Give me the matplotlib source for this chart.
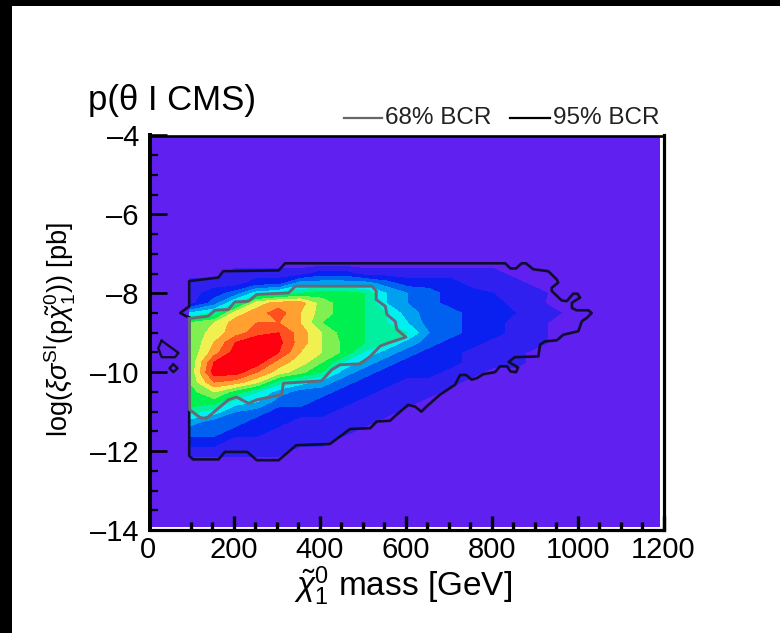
import numpy as np
import matplotlib
matplotlib.use("Agg")
import matplotlib.pyplot as plt
from matplotlib.colors import ListedColormap, BoundaryNorm
from matplotlib.patches import Rectangle

plt.rcParams['font.family'] = ['Liberation Sans', 'DejaVu Sans']
plt.rcParams['mathtext.fontset'] = 'custom'
plt.rcParams['mathtext.rm'] = 'Liberation Sans'
plt.rcParams['mathtext.it'] = 'Liberation Sans:italic'
plt.rcParams['mathtext.bf'] = 'Liberation Sans:bold'

# Mass and cross section grid of the posterior map
mass = [97, 155, 205, 255, 305, 355, 405, 455, 505, 555, 605, 655, 705, 755, 805, 855, 905, 955, 1005, 1055]
logsigma = [-7.25, -7.5, -7.75, -8, -8.25, -8.5, -8.75, -9, -9.25, -9.5, -9.75,
            -10, -10.25, -10.5, -10.75, -11, -11.25, -11.5, -11.75, -12, -12.25]

# Colour band, one row per logsigma value
density = [
    [0, 0, 0, 0, 0, 0, 0, 0, 0, 0, 0, 0, 0, 0, 0, 0, 0, 0, 0, 0],
    [0, 0, 1, 1, 1, 1, 2, 2, 1, 1, 1, 1, 1, 1, 1, 0, 0, 0, 0, 0],
    [1, 1, 1, 2, 2, 4, 4, 4, 4, 3, 2, 2, 2, 1, 1, 1, 0, 0, 0, 0],
    [1, 2, 3, 5, 5.5, 6.5, 7, 7, 6.5, 4.5, 3.5, 3, 2, 2, 1.5, 1, 1, 0, 0, 0],
    [1, 3, 5.5, 9, 10, 10, 8, 7, 6.5, 4.5, 3.5, 3, 2, 2, 2, 1, 0.8, 0, 0, 0],
    [4.5, 5.5, 9, 10, 11, 9.5, 8, 7, 6.5, 5.5, 4, 3, 3, 2, 2, 1.5, 1, 0.6, 0, 0],
    [7.5, 8.5, 10, 10.5, 10.5, 9.5, 7.5, 7, 6.5, 5.5, 4.5, 3, 3, 2, 2, 1, 1, 0, 0, 0],
    [7.5, 9, 10, 11, 11.5, 10, 8.5, 7, 6.5, 6, 5.5, 3.5, 3, 2, 2, 1, 1, 0, 0, 0],
    [7.5, 9.5, 11.5, 12.5, 11.8, 10, 8.5, 7.3, 6.5, 5.5, 4, 3, 2, 2, 1, 1, 1, 0, 0, 0],
    [7.5, 10, 12, 12.8, 11.5, 9.5, 8.5, 7.3, 5.3, 4, 3, 2, 2, 1, 1, 1, 0, 0, 0, 0],
    [7.5, 11.5, 12.8, 12, 10, 9, 7.5, 5.5, 4, 3, 2, 2, 2, 1, 1, 1, 0, 0, 0, 0],
    [7.5, 12, 12, 10.5, 9, 7.8, 6.5, 4, 3, 2, 2, 2, 1, 1, 0, 0, 0, 0, 0, 0],
    [7.5, 10.5, 10, 8.7, 6, 5, 4, 3, 2, 2, 1, 1, 1, 0, 0, 0, 0, 0, 0, 0],
    [7, 8.5, 7, 5.5, 4, 3, 3, 2, 2, 1, 1, 1, 0, 0, 0, 0, 0, 0, 0, 0],
    [7, 7, 5, 4.5, 3, 3, 2, 2, 1, 1, 1, 0, 0, 0, 0, 0, 0, 0, 0, 0],
    [6, 5, 3.5, 3, 2, 2, 2, 1, 1, 1, 0, 0, 0, 0, 0, 0, 0, 0, 0, 0],
    [4, 3, 3, 2, 2, 1, 1, 1, 1, 0, 0, 0, 0, 0, 0, 0, 0, 0, 0, 0],
    [3, 3, 2, 2, 1, 1, 1, 1, 0, 0, 0, 0, 0, 0, 0, 0, 0, 0, 0, 0],
    [2, 2, 1, 1, 1, 1, 1, 0, 0, 0, 0, 0, 0, 0, 0, 0, 0, 0, 0, 0],
    [1, 1, 1, 1, 1, 0, 0, 0, 0, 0, 0, 0, 0, 0, 0, 0, 0, 0, 0, 0],
    [0, 0, 0, 0, 0, 0, 0, 0, 0, 0, 0, 0, 0, 0, 0, 0, 0, 0, 0, 0],
]
band_colors = ['#6020f0', '#3020f0', '#0a20f0', '#0060f0', '#00a0f0', '#00f0f0', '#00f0a0',
               '#00f050', '#80f050', '#f0f050', '#ffa030', '#ff5020', '#ff0010']

# 95% BCR outline
bcr95_x = [97, 76, 97, 97, 165, 176, 305, 320, 727, 832, 844, 857, 870, 880, 897, 932, 952, 955, 940, 940,
           963, 975, 990, 1000, 1006, 987, 987, 998, 1025, 1033, 1022, 1010, 1002, 967, 952, 924, 913, 909,
           854, 840, 862, 857, 844, 836, 820, 808, 781, 766, 754, 741, 727, 715, 680, 649, 637, 622, 606,
           579, 564, 533, 518, 471, 424, 346, 305, 254, 232, 180, 165, 106, 97, 97]
bcr95_y = [-8.62, -8.5, -8.33, -7.69, -7.6, -7.44, -7.42, -7.24, -7.24, -7.24, -7.37, -7.37, -7.24, -7.24,
           -7.39, -7.44, -7.65, -7.73, -7.86, -7.94, -8.18, -8.2, -8.01, -8.01, -8.11, -8.24, -8.37, -8.43,
           -8.43, -8.5, -8.62, -8.71, -8.96, -9.05, -9.19, -9.22, -9.3, -9.6, -9.62, -9.74, -9.88, -10.0,
           -9.98, -9.85, -9.85, -10.0, -10.05, -10.15, -10.19, -10.07, -10.07, -10.32, -10.57, -10.87, -11.0,
           -10.87, -10.83, -11.08, -11.23, -11.25, -11.42, -11.44, -11.82, -11.85, -12.23, -12.23, -12.02,
           -12.02, -12.21, -12.21, -12.12, -8.62]
# the two small islands left of the main region
island1_x = [33, 72, 64, 33, 25, 33]
island1_y = [-9.2, -9.51, -9.62, -9.62, -9.39, -9.2]
island2_x = [60, 70, 60, 51, 60]
island2_y = [-9.8, -9.9, -10.0, -9.9, -9.8]

# 68% BCR outline
bcr68_x = [97, 141, 157, 188, 203, 235, 254, 328, 344, 522, 532, 532, 553, 557, 576, 580, 601, 560, 541,
           518, 494, 448, 428, 405, 316, 312, 254, 235, 207, 188, 137, 122, 98, 97]
bcr68_y = [-8.64, -8.58, -8.43, -8.41, -8.22, -8.2, -8.03, -7.99, -7.82, -7.82, -7.94, -8.16, -8.33, -8.54,
           -8.71, -8.92, -9.11, -9.26, -9.34, -9.6, -9.79, -9.81, -9.94, -10.22, -10.28, -10.57, -10.7,
           -10.79, -10.63, -10.7, -11.17, -11.15, -10.95, -8.64]

xticks = [0, 200, 400, 600, 800, 1000, 1200]
yticks = [-14, -12, -10, -8, -6, -4]
W, H = 780, 633
left_frame = 5.8  # the scanned frame sits a little right of the x=0 tick

fig = plt.figure(figsize=(W / 100, H / 100), dpi=100, facecolor='white')

# black scan edge on top and left
fig.patches.append(Rectangle((0, 1 - 6 / H), 1, 6 / H, transform=fig.transFigure, color='black', lw=0))
fig.patches.append(Rectangle((0, 0), 12 / W, 1, transform=fig.transFigure, color='black', lw=0))

ax = fig.add_axes([147.5 / W, 1 - 530 / H, 516 / W, 394.5 / H], facecolor='white')
ax.patch.set_visible(False)
ax.add_patch(Rectangle((0.0048, 0.0076), 0.9885, 0.9924, transform=ax.transAxes,
                       color=band_colors[0], lw=0, zorder=0))

cmap = ListedColormap(band_colors)
levels = np.arange(len(band_colors) + 1) - 0.5
ax.contourf(mass, logsigma, density, levels=levels, cmap=cmap, extend='max',
            norm=BoundaryNorm(levels, cmap.N), zorder=1)

ax.plot(bcr95_x, bcr95_y, color='#100c30', lw=1.9, zorder=3)
ax.plot(island1_x, island1_y, color='#100c30', lw=1.7, zorder=3)
ax.plot(island2_x, island2_y, color='#100c30', lw=1.7, zorder=3)
ax.plot(bcr68_x, bcr68_y, color='#666a78', lw=2.1, zorder=4)

ax.set_xlim(0, 1200)
ax.set_ylim(-14, -4)
ax.set_xticks(xticks)
ax.set_yticks(yticks)
ax.set_xticks(np.arange(0, 1201, 50), minor=True)
ax.set_yticks(np.arange(-14, -3.9, 0.5), minor=True)
ax.spines['left'].set_position(('data', left_frame))
ax.spines['bottom'].set_bounds(left_frame, 1200)
ax.spines['top'].set_bounds(left_frame, 1200)
ax.tick_params(axis='x', which='major', direction='in', length=10, width=2.4, labelsize=21, pad=4)
ax.tick_params(axis='x', which='minor', direction='in', length=6, width=2.4)
ax.tick_params(axis='y', which='major', direction='in', length=12, width=1.9, labelsize=21, pad=8)
ax.tick_params(axis='y', which='minor', direction='in', length=5.5, width=1.6)
ax.spines['left'].set_linewidth(2.9)
ax.spines['bottom'].set_linewidth(2.3)
ax.spines['top'].set_linewidth(1.9)
ax.spines['right'].set_linewidth(2.3)
ax.set_yticklabels(['\u201314', '\u201312', '\u201310', '\u20138', '\u20136', '\u20134'])

# the x=0 tick would poke out left of the frame
ax.xaxis.get_major_ticks()[0].tick1line.set_visible(False)
ax.xaxis.get_minor_ticks()[0].tick1line.set_visible(False)

fig.text(88 / W, 1 - 110 / H, 'p(\u03b8 I CMS)', fontsize=25, color='black')
fig.text(60 / W, 1 - 330 / H, r'log($\xi\sigma^{\mathrm{SI}}$(p$\tilde{\chi}_1^0$)) [pb]', fontsize=19.5,
         rotation=90, ha='center', va='center')
fig.text(403 / W, 1 - 586 / H, r'$\tilde{\chi}_1^0$ mass [GeV]', fontsize=24, ha='center', va='center')

# legend drawn by hand in figure pixels, as in the original header
fig.add_artist(plt.Line2D([344 / W, 382 / W], [1 - 118 / H] * 2, color='#666666', lw=1.6))
fig.add_artist(plt.Line2D([510 / W, 550 / W], [1 - 118 / H] * 2, color='black', lw=1.6))
fig.text(385 / W, 1 - 118 / H, '68% BCR', fontsize=17.5, va='center', color='#222222')
fig.text(553 / W, 1 - 118 / H, '95% BCR', fontsize=17.5, va='center', color='#222222')

fig.savefig('out.png', dpi=100)
